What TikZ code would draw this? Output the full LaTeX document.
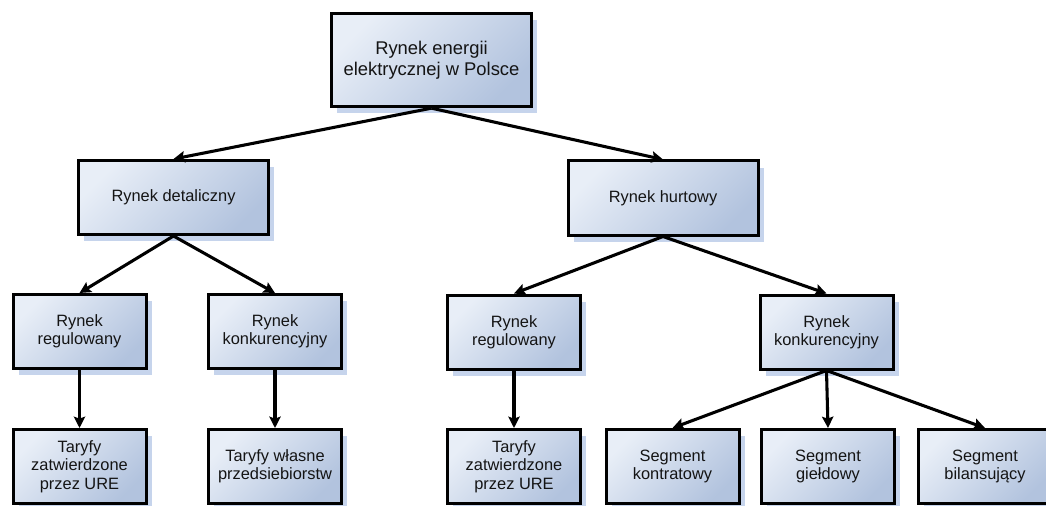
\documentclass[tikz,border=0pt]{standalone}
\usepackage{fontspec}
\setmainfont{Liberation Sans}
\usetikzlibrary{arrows.meta,shadows}

\definecolor{boxlight}{HTML}{E8EEF7}
\definecolor{boxdark}{HTML}{B2C3DE}
\definecolor{shadowblue}{HTML}{C6D4EC}
\definecolor{ink}{HTML}{141414}

\tikzset{
  boxbase/.style={
    draw=black, line width=2.25pt,
    top color=boxlight, bottom color=boxdark, shading angle=45,
    drop shadow={shadow xshift=4.2pt, shadow yshift=-5pt, fill=shadowblue, opacity=1},
    align=center, text=ink, inner sep=0pt
  },
  rootbox/.style={boxbase, minimum width=150pt, minimum height=70pt,
    font=\fontsize{13.8}{15.5}\selectfont},
  midbox/.style={boxbase, minimum width=142.5pt, minimum height=55.5pt,
    font=\fontsize{12.3}{13.8}\selectfont},
  leafbox/.style={boxbase, minimum width=99.75pt, minimum height=55.5pt,
    font=\fontsize{12.3}{13.8}\selectfont},
  link/.style={draw=black, line width=2.3pt,
    -{Stealth[length=8.5pt,width=8.5pt,inset=1.5pt]}}
}

\begin{document}
\begin{tikzpicture}[x=0.75pt,y=-0.75pt]
  \useasboundingbox (0,0) rectangle (1046,506);
  \clip (0,0) rectangle (1046,506);

  % level 1
  \node[rootbox] (root) at (431.5,60) {Rynek energii\\elektrycznej w Polsce};

  % level 2
  \node[midbox] (det) at (173.5,197.5) {Rynek detaliczny};
  \node[midbox] (hur) at (663,198) {Rynek hurtowy};

  % level 3
  \node[leafbox] (detreg) at (79.5,331.5) {Rynek\\regulowany};
  \node[leafbox] (detkon) at (275,331.5) {Rynek\\konkurencyjny};
  \node[leafbox] (hurreg) at (514,332) {Rynek\\regulowany};
  \node[leafbox] (hurkon) at (826.5,332) {Rynek\\konkurencyjny};

  % level 4
  \node[leafbox] (taryfa) at (79.5,466.5) {Taryfy\\zatwierdzone\\przez URE};
  \node[leafbox] (wlasne) at (275,466.5) {Taryfy własne\\przedsiebiorstw};
  \node[leafbox] (taryfb) at (514,466.5) {Taryfy\\zatwierdzone\\przez URE};
  \node[leafbox] (kontr) at (672.5,466.5) {Segment\\kontratowy};
  \node[leafbox] (gield) at (828,466.5) {Segment\\giełdowy};
  \node[leafbox] (bilan) at (985,466.5) {Segment\\bilansujący};

  % connectors
  \draw[link] (root.south) -- (det.north);
  \draw[link] (root.south) -- (hur.north);
  \draw[link] (det.south) -- (detreg.north);
  \draw[link] (det.south) -- (detkon.north);
  \draw[link] (hur.south) -- (hurreg.north);
  \draw[link] (hur.south) -- (hurkon.north);
  \draw[link] (detreg.south) -- (taryfa.north);
  \draw[link] (detkon.south) -- (wlasne.north);
  \draw[link] (hurreg.south) -- (taryfb.north);
  \draw[link] (hurkon.south) -- (kontr.north);
  \draw[link] (hurkon.south) -- (gield.north);
  \draw[link] (hurkon.south) -- (bilan.north);
\end{tikzpicture}
\end{document}
